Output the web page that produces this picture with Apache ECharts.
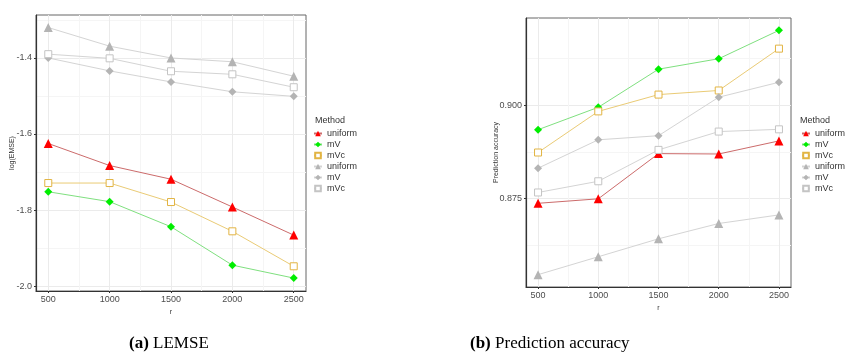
<!DOCTYPE html>
<html>
<head>
<meta charset="utf-8">
<script src="https://cdn.jsdelivr.net/npm/echarts@6/dist/echarts.min.js"></script>
<style>
  html, body { margin: 0; padding: 0; background: #fff; }
  #chart { width: 849px; height: 356px; }
</style>
</head>
<body>
<div id="chart"></div>
<script>
  // r values shared by both panels
  const rValues = [500, 1000, 1500, 2000, 2500]

  // (a) LEMSE
  const lemseUniform = [-1.625, -1.683, -1.719, -1.792, -1.866]
  const lemseMV = [-1.752, -1.778, -1.844, -1.945, -1.979]
  const lemseMVc = [-1.729, -1.729, -1.779, -1.856, -1.948]
  const lemseUniformGray = [-1.320, -1.369, -1.400, -1.410, -1.448]
  const lemseMVGray = [-1.400, -1.434, -1.463, -1.489, -1.501]
  const lemseMVcGray = [-1.390, -1.401, -1.435, -1.443, -1.477]
  const lemseTicks = [-2.0, -1.8, -1.6, -1.4]
  const lemseMinor = [-1.9, -1.7, -1.5, -1.3]

  // (b) Prediction accuracy
  const accUniform = [0.8737, 0.8749, 0.8870, 0.8869, 0.8904]
  const accMV = [0.8934, 0.8994, 0.9096, 0.9124, 0.9200]
  const accMVc = [0.8873, 0.8983, 0.9028, 0.9039, 0.9151]
  const accUniformGray = [0.8546, 0.8594, 0.8642, 0.8683, 0.8706]
  const accMVGray = [0.8831, 0.8907, 0.8918, 0.9021, 0.9061]
  const accMVcGray = [0.8766, 0.8796, 0.8880, 0.8929, 0.8935]
  const accTicks = [0.875, 0.900]
  const accMinor = [0.8625, 0.8875, 0.9125]

  const xMinor = [750, 1250, 1750, 2250]

  // legend names (trailing space keeps the gray group separate)
  const methodNames = ['uniform', 'mV', 'mVc', 'uniform ', 'mV ', 'mVc ']

  const font = 'Liberation Sans, Arial, sans-serif'
  const styles = [
    { symbol: 'triangle', size: 8, line: '#cc6b6b', fill: '#ff0000', border: '#ff0000' },
    { symbol: 'diamond', size: 7, line: '#7fe07f', fill: '#00ee00', border: '#00ee00' },
    { symbol: 'rect', size: 7, line: '#eacb75', fill: '#ffffff', border: '#e2b443', hollow: true },
    { symbol: 'triangle', size: 8, line: '#d4d4d4', fill: '#b4b4b4', border: '#b4b4b4' },
    { symbol: 'diamond', size: 7, line: '#d4d4d4', fill: '#b4b4b4', border: '#b4b4b4' },
    { symbol: 'rect', size: 7, line: '#d4d4d4', fill: '#ffffff', border: '#c4c4c4', hollow: true }
  ]

  function pairs(ys) {
    return rValues.map((r, i) => [r, ys[i]])
  }

  function makeSeries(name, ys, st, axisIdx) {
    return {
      name: name,
      type: 'line',
      xAxisIndex: axisIdx * 2,
      yAxisIndex: axisIdx * 2,
      data: pairs(ys),
      symbol: st.symbol,
      symbolSize: st.symbol === 'rect' ? st.size : st.size + 1,
      showSymbol: true,
      animation: false,
      lineStyle: { color: st.line, width: 1 },
      itemStyle: {
        color: st.fill,
        borderColor: st.border,
        borderWidth: st.hollow ? 1 : 0
      },
      emphasis: { disabled: true },
      z: 3
    }
  }

  function xAxes(gridIdx) {
    return [
      {
        type: 'value', gridIndex: gridIdx, min: 400, max: 2600,
        name: 'r', nameLocation: 'middle', nameGap: 14,
        nameTextStyle: { fontFamily: font, fontSize: 7, color: '#333' },
        axisLine: { show: true, lineStyle: { color: '#333', width: 1.2 } },
        axisTick: { show: true, customValues: rValues, length: 2, lineStyle: { color: '#333' } },
        axisLabel: { customValues: rValues, fontFamily: font, fontSize: 9, color: '#4d4d4d', margin: 4, formatter: v => String(v) },
        splitLine: { show: true, lineStyle: { color: '#ebebeb', width: 1 } }
      },
      {
        type: 'value', gridIndex: gridIdx, min: 400, max: 2600,
        axisLine: { show: false },
        axisTick: { show: false, customValues: xMinor },
        axisLabel: { show: false, customValues: xMinor },
        splitLine: { show: true, lineStyle: { color: '#f5f5f5', width: 1 } }
      }
    ]
  }

  function yAxes(gridIdx, min, max, ticks, minor, name, gap, fmt) {
    return [
      {
        type: 'value', gridIndex: gridIdx, min: min, max: max,
        name: name, nameLocation: 'middle', nameGap: gap, nameRotate: 90,
        nameMoveOverlap: false,
        nameTextStyle: { fontFamily: font, fontSize: 7, color: '#333' },
        axisLine: { show: true, lineStyle: { color: '#333', width: 1.2 } },
        axisTick: { show: true, customValues: ticks, length: 2, lineStyle: { color: '#333' } },
        axisLabel: { customValues: ticks, fontFamily: font, fontSize: 9, color: '#4d4d4d', margin: 4, formatter: fmt },
        splitLine: { show: true, lineStyle: { color: '#ebebeb', width: 1 } }
      },
      {
        type: 'value', gridIndex: gridIdx, min: min, max: max,
        axisLine: { show: false },
        axisTick: { show: false, customValues: minor },
        axisLabel: { show: false, customValues: minor },
        splitLine: { show: true, lineStyle: { color: '#f5f5f5', width: 1 } }
      }
    ]
  }

  function legendFor(left, top, seriesNames) {
    return {
      orient: 'vertical',
      left: left,
      top: top,
      padding: 0,
      data: seriesNames,
      itemWidth: 8,
      itemHeight: 7,
      itemGap: 2,
      selectedMode: false,
      formatter: name => name.trim(),
      textStyle: { fontFamily: font, fontSize: 9, color: '#333' }
    }
  }

  const leftData = [lemseUniform, lemseMV, lemseMVc, lemseUniformGray, lemseMVGray, lemseMVcGray]
  const rightData = [accUniform, accMV, accMVc, accUniformGray, accMVGray, accMVcGray]
  const rightNames = methodNames.map(n => n + '  ')

  const series = []
  leftData.forEach((d, i) => series.push(makeSeries(methodNames[i], d, styles[i], 0)))
  rightData.forEach((d, i) => series.push(makeSeries(rightNames[i], d, styles[i], 1)))

  const captionStyle = {
    fontFamily: 'Liberation Serif', fontSize: 17, fontWeight: 'normal', color: '#000',
    rich: { b: { fontFamily: 'Liberation Serif', fontSize: 17, fontWeight: 'bold', color: '#000' } }
  }
  const methodStyle = { fontFamily: font, fontSize: 9, fontWeight: 'normal', color: '#333' }

  const chart = echarts.init(document.getElementById('chart'))
  chart.setOption({
    backgroundColor: '#fff',
    animation: false,
    grid: [
      { left: 36, top: 15, width: 270, height: 276, show: true, borderColor: '#666', borderWidth: 1 },
      { left: 526, top: 18, width: 265, height: 269, show: true, borderColor: '#666', borderWidth: 1 }
    ],
    xAxis: xAxes(0).concat(xAxes(1)),
    yAxis: yAxes(0, -2.013, -1.287, lemseTicks, lemseMinor, 'log(EMSE)', 20, v => v.toFixed(1))
      .concat(yAxes(1, 0.8513, 0.9233, accTicks, accMinor, 'Prediction accuracy', 26, v => v.toFixed(3))),
    legend: [legendFor(313, 129, methodNames), legendFor(801, 129, rightNames)],
    title: [
      { text: 'Method', left: 310, top: 111, textStyle: methodStyle },
      { text: 'Method', left: 795, top: 111, textStyle: methodStyle },
      { text: '{b|(a)} LEMSE', left: 124, top: 330, textStyle: captionStyle },
      { text: '{b|(b)} Prediction accuracy', left: 465, top: 330, textStyle: captionStyle }
    ],
    series: series
  })
</script>
</body>
</html>
